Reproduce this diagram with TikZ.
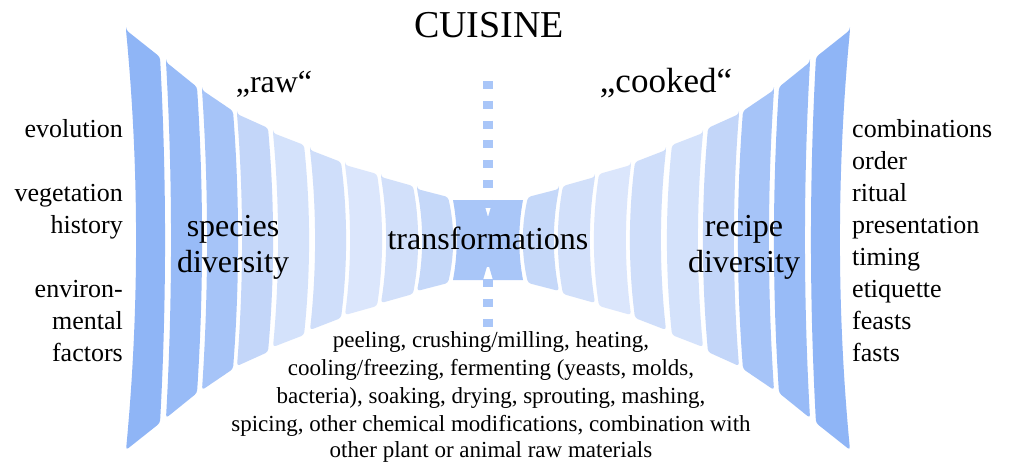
\documentclass[tikz,border=0pt]{standalone}
\usepackage{fontspec}
\setmainfont{Liberation Serif}
\definecolor{cA}{HTML}{8FB5F6}
\definecolor{cB}{HTML}{98BBF7}
\definecolor{cC}{HTML}{A6C4F8}
\definecolor{cD}{HTML}{C3D6F9}
\definecolor{cE}{HTML}{D4E2FB}
\definecolor{cF}{HTML}{CFDEFA}
\definecolor{cG}{HTML}{DBE6FC}
\definecolor{cH}{HTML}{D2E0FA}
\definecolor{cI}{HTML}{C5D8F9}
\definecolor{cCenter}{HTML}{A9C6F8}
\newcommand\slab[7]{%
  \fill[#7, rounded corners=3pt] (#1,#3) -- (#2,#4)
    .. controls ({#2+1.333*#6},{#4+(480-2*#4)/3}) and ({#2+1.333*#6},{480-#4-(480-2*#4)/3}) .. (#2,{480-#4})
    -- (#1,{480-#3})
    .. controls ({#1+1.333*#5},{480-#3-(480-2*#3)/3}) and ({#1+1.333*#5},{#3+(480-2*#3)/3}) .. (#1,#3) -- cycle;}
\newcommand\halfshape{%
  \slab{126}{160}{30}{57}{10}{5}{cA}
  \slab{166}{197}{62}{87}{5}{5}{cB}
  \slab{202}{233}{90}{111}{5}{5}{cC}
  \slab{237}{268}{114}{128}{5}{5}{cD}
  \slab{273}{304}{133}{145}{5}{5}{cE}
  \slab{310}{341}{150}{162}{5}{5}{cF}
  \slab{345}{377}{165}{174}{5}{5}{cG}
  \slab{381}{413}{177}{186}{5}{5}{cH}
  \slab{417}{448}{189}{197}{5}{5}{cI}}
\begin{document}
\begin{tikzpicture}[x=1pt,y=-1pt,
  lbl/.style={inner sep=0pt, font=\fontsize{26}{32}\selectfont},
  big/.style={inner sep=0pt, font=\fontsize{32}{36}\selectfont},
  small/.style={inner sep=0pt, font=\fontsize{23}{28}\selectfont}]
\useasboundingbox (0,0) rectangle (1009,463);
\fill[white] (0,0) rectangle (1009,463);
% left half
\begin{scope}
  \halfshape
\end{scope}
% right half (mirrored)
\begin{scope}[xshift=976pt, xscale=-1]
  \halfshape
\end{scope}
% centre piece
\fill[cCenter] (453,200) -- (483,200) -- (488,217) -- (493,200) -- (523,200)
  .. controls (518,227) and (518,253) .. (523,280)
  -- (493,280) -- (488,263) -- (483,280) -- (453,280)
  .. controls (458,253) and (458,227) .. (453,200) -- cycle;
% dotted axis
\coordinate (axtop) at (488,81);
\coordinate (axbot) at (488,327);
\draw[cCenter, line width=10pt, dash pattern=on 8pt off 11.8pt] (axtop) -- (axbot);
% texts
\node[inner sep=0pt, font=\fontsize{38}{44}\selectfont, anchor=base] (cuisine) at (489,37) {CUISINE};
\node[big, anchor=base] (raw) at (274,92) {„raw“};
\node[inner sep=0pt, font=\fontsize{35}{40}\selectfont, anchor=base] (cooked) at (666,92) {„cooked“};
\node[big, anchor=base] (species) at (233,236) {species};
\node[big, anchor=base] (sdiv) at (233,272) {diversity};
\node[big, anchor=base] (recipe) at (744,236) {recipe};
\node[big, anchor=base] (rdiv) at (744,272) {diversity};
\node[big, anchor=base] (transf) at (488,249) {transformations};
\foreach \t/\y [count=\i] in {evolution/137, vegetation/201, history/233, environ-/297, mental/329, factors/361}
  \node[lbl, anchor=base east] (left\i) at (123,\y) {\t};
\foreach \t/\y [count=\i] in {combinations/137, order/169, ritual/201, presentation/233, timing/265, etiquette/297, feasts/329, fasts/361}
  \node[lbl, anchor=base west] (right\i) at (852,\y) {\t};
\foreach \t/\y [count=\i] in {{peeling, crushing/milling, heating,}/347, {cooling/freezing, fermenting (yeasts, molds,}/375, {bacteria), soaking, drying, sprouting, mashing,}/403, {spicing, other chemical modifications, combination with}/431, {other plant or animal raw materials}/457}
  \node[small, anchor=base] (bot\i) at (491,\y) {\t};
\end{tikzpicture}
\end{document}
